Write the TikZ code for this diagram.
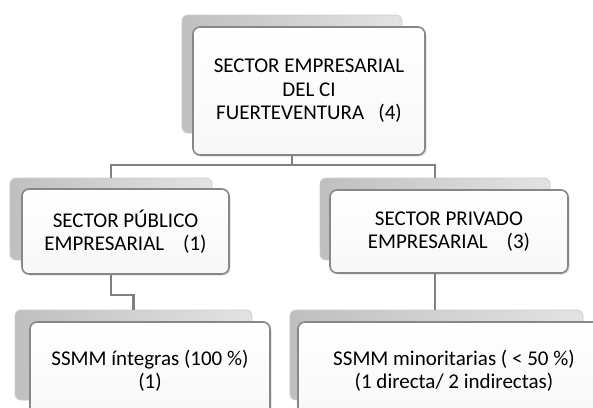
\documentclass[tikz,border=0pt]{standalone}
\usepackage{fontspec}
\setmainfont{Carlito}
\usetikzlibrary{calc,shadows}
\definecolor{lineg}{RGB}{128,128,128}
\definecolor{borderg}{RGB}{135,135,135}
\begin{document}
\begin{tikzpicture}[x=1pt,y=-1pt,
  backbox/.style={rectangle, rounded corners=6pt, draw=gray!40, line width=0.8pt,
    left color=gray!50, right color=gray!22, inner sep=0pt},
  frontbox/.style={rectangle, rounded corners=7pt, draw=borderg, line width=1.6pt,
    top color=white, bottom color=gray!6, inner sep=0pt, align=center,
    font=\fontsize{21}{23.5}\selectfont,
    drop shadow={shadow xshift=1.5pt, shadow yshift=-1.5pt, opacity=0.25}},
  conn/.style={draw=lineg, line width=2.8pt}]
\useasboundingbox (0,0) rectangle (593,407);
\clip (0,0) rectangle (593,407);
% back boxes
\node[backbox, minimum width=220pt, minimum height=118pt] (tback) at (292,74) {};
\node[backbox, minimum width=202pt, minimum height=82pt] (lback) at (111,219) {};
\node[backbox, minimum width=230pt, minimum height=82pt] (rback) at (435,219) {};
\node[backbox, minimum width=237pt, minimum height=90pt] (blback) at (133.5,355) {};
\node[backbox, minimum width=293pt, minimum height=90pt] (brback) at (436.5,355) {};
% connectors
\coordinate (bus) at (0,165);
\draw[conn] (tback.center |- 0,140) -- (tback.center |- bus) coordinate (busm);
\draw[conn] (lback.north) -- (lback.north |- bus) -- (rback.north |- bus) -- (rback.north);
\draw[conn] (lback.center |- 0,268) -- (lback.center |- 0,295) -| (blback.north);
\draw[conn] (rback.center |- 0,268) -- (brback.north -| rback.center);
% front boxes
\node[frontbox, minimum width=232pt, minimum height=128pt] (tfront) at (309,91)
  {SECTOR EMPRESARIAL\\DEL CI\\FUERTEVENTURA\ \ \ (4)};
\node[frontbox, minimum width=207pt, minimum height=85pt] (lfront) at (125.5,231.5)
  {SECTOR PÚBLICO\\EMPRESARIAL\ \ \ \ (1)};
\node[frontbox, minimum width=238pt, minimum height=83pt] (rfront) at (449,231.5)
  {SECTOR PRIVADO\\EMPRESARIAL\ \ \ \ (3)};
\node[frontbox, minimum width=240pt, minimum height=98pt] (blfront) at (150,371)
  {SSMM íntegras (100 \%)\\(1)};
\node[frontbox, minimum width=312pt, minimum height=98pt] (brfront) at (454,371)
  {SSMM minoritarias ( < 50 \%)\\(1 directa/ 2 indirectas)};
\end{tikzpicture}
\end{document}
